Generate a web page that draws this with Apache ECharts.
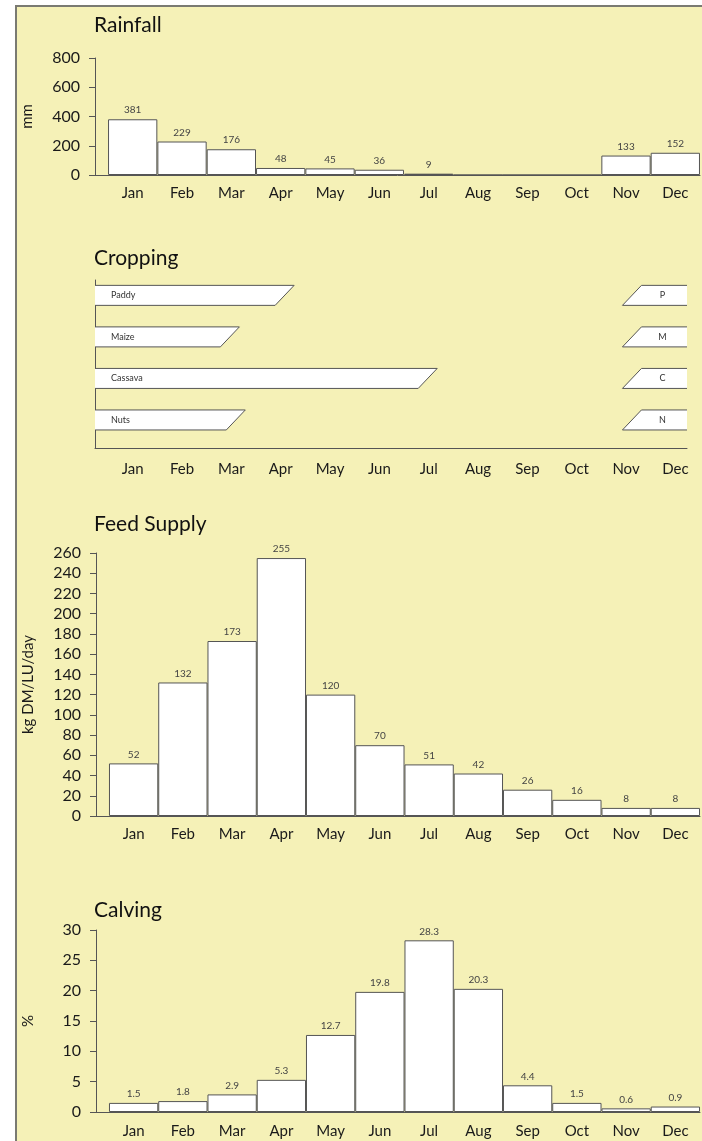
<!DOCTYPE html>
<html>
<head>
<meta charset="utf-8">
<script src="https://cdn.jsdelivr.net/npm/echarts@6/dist/echarts.min.js"></script>
<style>
  html, body { margin: 0; padding: 0; background: #fff; }
  #frame {
    position: absolute; left: 15px; top: 5px; width: 687px; height: 1136px;
    background: #f5f1b7; border-left: 2px solid #7a7a72; border-top: 2px solid #7a7a72;
    box-sizing: border-box;
  }
  #chart { position: absolute; left: 0; top: 0; width: 702px; height: 1141px; }
</style>
</head>
<body>
<div id="frame"></div>
<div id="chart"></div>
<script>
// month labels
const months = ['Jan', 'Feb', 'Mar', 'Apr', 'May', 'Jun', 'Jul', 'Aug', 'Sep', 'Oct', 'Nov', 'Dec'];

// Rainfall, mm
const rainfall = [381, 229, 176, 48, 45, 36, 9, 0, 0, 0, 133, 152];

// Cropping: harvest (end of slant) and planting (start of slant), in months (Jan = 0)
const crops = ['Paddy', 'Maize', 'Cassava', 'Nuts'];
const cropShort = ['P', 'M', 'C', 'N'];
const cropHarvest = [3.08, 1.97, 5.98, 2.09];
const cropPlant = [10.12, 10.12, 10.12, 10.12];

// Feed supply, kg DM/LU/day
const feedSupply = [52, 132, 173, 255, 120, 70, 51, 42, 26, 16, 8, 8];

// Calving, %
const calving = [1.5, 1.8, 2.9, 5.3, 12.7, 19.8, 28.3, 20.3, 4.4, 1.5, 0.6, 0.9];

const FONT = 'Lato, "Noto Sans", sans-serif';
const LINE = '#555';
const CROP_H = 20;     // crop strip height, px
const SLANT = 9.5;     // half of slant width, px

const chart = echarts.init(document.getElementById('chart'), null, { renderer: 'canvas' });

function pairs(arr) {
    return arr.map((v, i) => [i, v]);
}

// month axis: Jan centre = 0, bars a full month wide
function monthAxis(grid, max, margin) {
    return {
        type: 'value',
        gridIndex: grid,
        min: -0.764,
        max: max,
        axisLine: { show: true, onZero: false, lineStyle: { color: LINE, width: 1 } },
        axisTick: { show: false },
        splitLine: { show: false },
        axisLabel: {
            customValues: months.map((m, i) => i),
            formatter: (v) => months[Math.round(v)],
            fontFamily: FONT, fontSize: 15, color: '#1a1a1a', margin: margin
        }
    };
}

function valueAxis(grid, max, interval, name) {
    return {
        type: 'value',
        gridIndex: grid,
        min: 0,
        max: max,
        interval: interval,
        name: name,
        nameLocation: 'middle',
        nameGap: 60,
        nameTextStyle: { fontFamily: FONT, fontSize: 15, color: '#1a1a1a' },
        axisLine: { show: true, onZero: false, lineStyle: { color: LINE, width: 1 } },
        axisTick: { show: true, length: 6, lineStyle: { color: LINE } },
        splitLine: { show: false },
        axisLabel: { fontFamily: FONT, fontSize: 16, color: '#1a1a1a', margin: 15 }
    };
}

function barSeries(idx, arr) {
    return {
        type: 'bar',
        xAxisIndex: idx,
        yAxisIndex: idx,
        data: pairs(arr),
        barCategoryGap: '0%',
        barWidth: 49.3,
        itemStyle: { color: '#fff', borderColor: LINE, borderWidth: 1 },
        label: {
            show: true,
            position: 'top',
            distance: 4,
            fontFamily: FONT,
            fontSize: 10,
            color: '#444',
            formatter: (p) => (p.value[1] === 0 ? '' : String(p.value[1]))
        },
        silent: true
    };
}

function renderCrop(params, api) {
    const cs = params.coordSys;
    const row = api.value(0);
    const yc = api.coord([0, row])[1];
    const top = yc - CROP_H / 2;
    const bot = yc + CROP_H / 2;
    const left = cs.x;
    const right = cs.x + cs.width;
    const hx = api.coord([api.value(1), row])[0];
    const px = api.coord([api.value(2), row])[0];
    const lineStyle = { stroke: LINE, lineWidth: 1, fill: null };
    return {
        type: 'group',
        children: [
            { type: 'polygon', shape: { points: [[left, top], [hx + SLANT, top], [hx - SLANT, bot], [left, bot]] }, style: { fill: '#fff' } },
            { type: 'polyline', shape: { points: [[left, top], [hx + SLANT, top], [hx - SLANT, bot], [left, bot]] }, style: lineStyle },
            { type: 'text', style: { x: left + 16, y: yc, text: crops[params.dataIndex], fontFamily: FONT, fontSize: 9, fill: '#333', verticalAlign: 'middle' } },
            { type: 'polygon', shape: { points: [[px + SLANT, top], [right, top], [right, bot], [px - SLANT, bot]] }, style: { fill: '#fff' } },
            { type: 'polyline', shape: { points: [[right, top], [px + SLANT, top], [px - SLANT, bot], [right, bot]] }, style: lineStyle },
            { type: 'text', style: { x: (px + right) / 2 + 3, y: yc, text: cropShort[params.dataIndex], fontFamily: FONT, fontSize: 9, fill: '#333', align: 'center', verticalAlign: 'middle' } }
        ]
    };
}

const titleStyle = { fontFamily: FONT, fontSize: 21, fontWeight: 'normal', color: '#111' };

const option = {
    backgroundColor: 'transparent',
    animation: false,
    title: [
        { text: 'Rainfall', left: 94, top: 15, padding: 0, textStyle: titleStyle },
        { text: 'Cropping', left: 94, top: 248, padding: 0, textStyle: titleStyle },
        { text: 'Feed Supply', left: 94, top: 514, padding: 0, textStyle: titleStyle },
        { text: 'Calving', left: 94, top: 900, padding: 0, textStyle: titleStyle }
    ],
    grid: [
        { left: 95, top: 58, width: 605, height: 117 },
        { left: 95, top: 280, width: 592, height: 168 },
        { left: 96, top: 553, width: 604, height: 263 },
        { left: 96, top: 930, width: 604, height: 182 }
    ],
    xAxis: [
        monthAxis(0, 11.5, 11),
        monthAxis(1, 11.236, 14),
        monthAxis(2, 11.5, 11),
        monthAxis(3, 11.5, 12)
    ],
    yAxis: [
        valueAxis(0, 800, 200, 'mm'),
        {
            type: 'value', gridIndex: 1, inverse: true, min: -0.37, max: 3.675,
            axisLine: { show: true, onZero: false, lineStyle: { color: LINE, width: 1 } },
            axisTick: { show: false }, axisLabel: { show: false }, splitLine: { show: false }
        },
        valueAxis(2, 260, 20, 'kg DM/LU/day'),
        valueAxis(3, 30, 5, '%')
    ],
    series: [
        barSeries(0, rainfall),
        {
            type: 'custom',
            xAxisIndex: 1,
            yAxisIndex: 1,
            renderItem: renderCrop,
            clip: false,
            silent: true,
            data: crops.map((c, i) => [i, cropHarvest[i], cropPlant[i]])
        },
        barSeries(2, feedSupply),
        barSeries(3, calving)
    ]
};

chart.setOption(option);
</script>
</body>
</html>
